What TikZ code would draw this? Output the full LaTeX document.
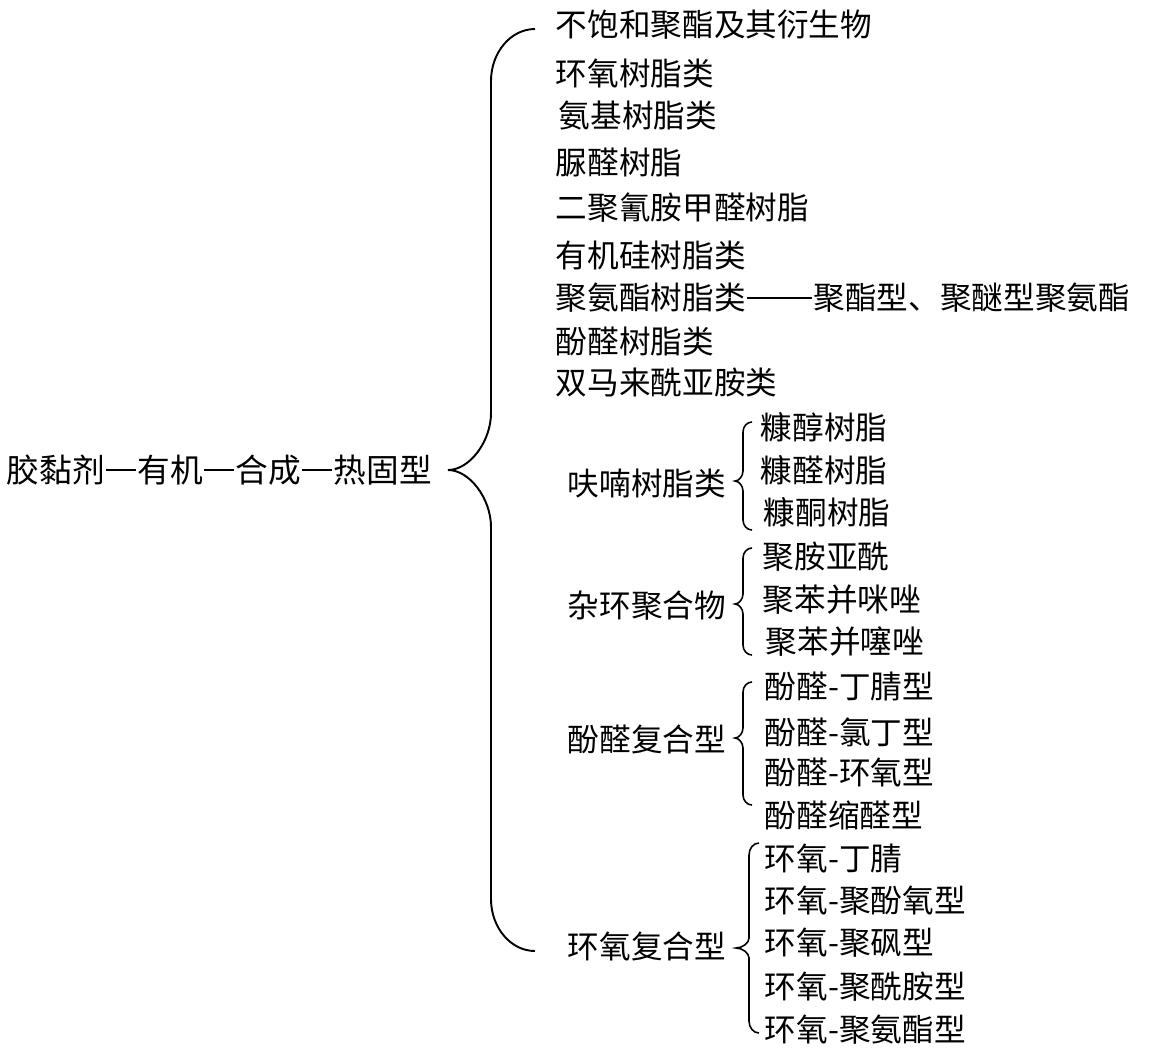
\documentclass[tikz,border=0pt]{standalone}
\usepackage{fontspec}
\setmainfont{Noto Sans CJK SC}
\usetikzlibrary{calc}

% curly bracket: x end, x of the stem, x of the tip, y top, y tip, y bottom, end radius, tip radius
\newcommand{\brc}[8]{%
  \draw (#1,#4) .. controls ({#1-0.55*(#1-#2)},#4) and (#2,{#4+0.45*#7}) .. (#2,#4+#7)
    -- (#2,#5-#8) .. controls (#2,{#5-0.5*#8}) and ({#3+0.5*(#2-#3)},#5) .. (#3,#5)
    .. controls ({#3+0.5*(#2-#3)},#5) and (#2,{#5+0.5*#8}) .. (#2,#5+#8)
    -- (#2,#6-#7) .. controls (#2,{#6-0.45*#7}) and ({#1-0.55*(#1-#2)},#6) .. (#1,#6);}
% long dash, #1 em wide
\newcommand{\zdash}[1]{\makebox[#1em]{\rule[.36em]{\dimexpr#1em-.08em\relax}{.05em}}}

\begin{document}
\begin{tikzpicture}[x=0.02cm,y=-0.02cm,line width=1.1pt,
  every node/.style={font=\fontsize{18pt}{20pt}\selectfont,inner sep=0pt,anchor=west}]
\useasboundingbox (0,0) rectangle (1150,1063);
\node[font=\fontsize{18.6pt}{20pt}\selectfont] (root) at (6,470)
  {胶黏剂\zdash{1}有机\zdash{1}合成\zdash{1}热固型};
\brc{535}{491}{448}{29}{470}{951}{52}{57}
% first level
\foreach \x/\y/\t [count=\i] in {555/25/不饱和聚酯及其衍生物,555/73/环氧树脂类,558/115/氨基树脂类,
  555/162/脲醛树脂,555/208/二聚氰胺甲醛树脂,555/255/有机硅树脂类,
  555/298/聚氨酯树脂类\zdash{2.15}聚酯型、聚醚型聚氨酯,555/341/酚醛树脂类,555/383/双马来酰亚胺类}
  \node (a\i) at (\x,\y) {\t};
\foreach \y/\t [count=\i] in {483/呋喃树脂类,606/杂环聚合物,739/酚醛复合型,946/环氧复合型}
  \node (g\i) at (567,\y) {\t};
% second level
\begin{scope}[line width=0.9pt]
\brc{752}{743}{735}{422}{481}{530}{10}{10}
\brc{752}{743}{735}{548}{604}{655}{10}{10}
\brc{752}{743}{735}{682}{738}{805}{10}{10}
\brc{759}{749}{736}{843}{948}{1033}{12}{10}
\end{scope}
\foreach \x/\y/\t [count=\i] in {760/427/糠醇树脂,760/470/糠醛树脂,763/512/糠酮树脂}
  \node (f\i) at (\x,\y) {\t};
\foreach \x/\y/\t [count=\i] in {762/557/聚胺亚酰,762/600/聚苯并咪唑,765/641/聚苯并噻唑}
  \node (h\i) at (\x,\y) {\t};
\foreach \y/\t [count=\i] in {686/酚醛-丁腈型,732/酚醛-氯丁型,772/酚醛-环氧型,815/酚醛缩醛型}
  \node (p\i) at (764,\y) {\t};
\foreach \y/\t [count=\i] in {858/环氧-丁腈,901/环氧-聚酚氧型,943/环氧-聚砜型,987/环氧-聚酰胺型,1030/环氧-聚氨酯型}
  \node (e\i) at (764,\y) {\t};
\end{tikzpicture}
\end{document}
